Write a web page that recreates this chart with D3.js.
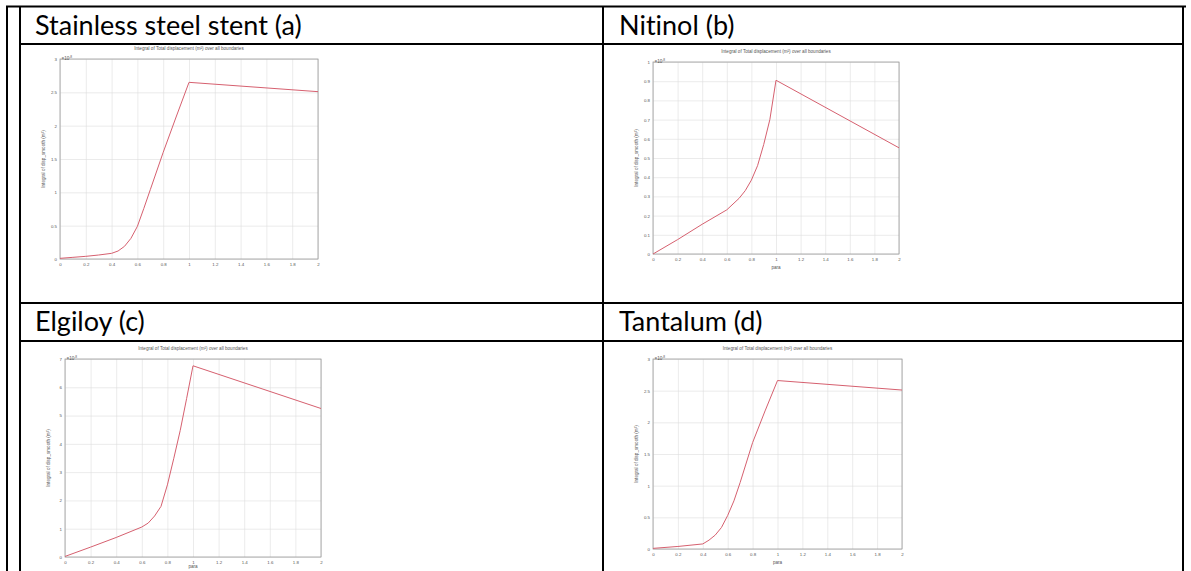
<!DOCTYPE html>
<html>
<head>
<meta charset="utf-8">
<script src="https://cdn.jsdelivr.net/npm/d3@7"></script>
<style>
    body { margin: 0; background: #fff; }
    svg { display: block; }
    .header { font-family: Lato, "Open Sans", sans-serif; font-size: 27px; fill: #000; font-variant-ligatures: none; }
    .tiny { font-family: "Liberation Sans", Arial, sans-serif; font-size: 4.6px; fill: #555; }
    .axis text { font-family: "Liberation Sans", Arial, sans-serif; font-size: 4.4px; fill: #555; }
</style>
</head>
<body>
<div id="chart"></div>
<script>
// Values (y in units of the 10^-8 multiplier)
const paraTicks = [0, 0.2, 0.4, 0.6, 0.8, 1, 1.2, 1.4, 1.6, 1.8, 2];

const steelPara = [0, 0.1, 0.2, 0.3, 0.4, 0.45, 0.5, 0.55, 0.6, 0.65, 0.7, 0.8, 0.9, 1.0, 2.0];
const steelDisp = [0.01, 0.025, 0.04, 0.06, 0.085, 0.12, 0.19, 0.31, 0.49, 0.76, 1.04, 1.6, 2.13, 2.65, 2.51];
const steelTicks = [0, 0.5, 1, 1.5, 2, 2.5, 3];

const nitinolPara = [0, 0.2, 0.4, 0.6, 0.7, 0.75, 0.8, 0.85, 0.9, 0.95, 1.0, 2.0];
const nitinolDisp = [0, 0.075, 0.155, 0.23, 0.29, 0.33, 0.385, 0.46, 0.57, 0.7, 0.905, 0.553];
const nitinolTicks = [0, 0.1, 0.2, 0.3, 0.4, 0.5, 0.6, 0.7, 0.8, 0.9, 1];

const elgiloyPara = [0, 0.2, 0.4, 0.6, 0.65, 0.7, 0.75, 0.8, 0.85, 0.9, 0.95, 1.0, 2.0];
const elgiloyDisp = [0.02, 0.35, 0.69, 1.06, 1.2, 1.45, 1.79, 2.55, 3.49, 4.47, 5.6, 6.76, 5.25];
const elgiloyTicks = [0, 1, 2, 3, 4, 5, 6, 7];

const tantalumPara = [0, 0.2, 0.4, 0.45, 0.5, 0.55, 0.6, 0.65, 0.7, 0.8, 0.9, 1.0, 2.0];
const tantalumDisp = [0.01, 0.04, 0.08, 0.14, 0.22, 0.34, 0.53, 0.76, 1.05, 1.68, 2.18, 2.66, 2.51];
const tantalumTicks = [0, 0.5, 1, 1.5, 2, 2.5, 3];

const headers = ['Stainless steel stent (a)', 'Nitinol (b)', 'Elgiloy (c)', 'Tantalum (d)'];
const plotTitle = 'Integral of Total displacement (m\u00b2) over all boundaries';
const yLabel = 'Integral of disp_smooth (m\u00b2)';

const W = 1191, H = 571;
const svg = d3.select('#chart').append('svg')
    .attr('width', W)
    .attr('height', H);

// table grid
const lines = [
    [6, 6.5, 1186, 6.5],
    [7, 6, 7, H],
    [20, 6, 20, H],
    [603, 6, 603, H],
    [1183, 6, 1183, H],
    [20, 44, 1183, 44],
    [20, 303, 1183, 303],
    [20, 341, 1183, 341]
];
svg.append('g')
    .selectAll('line')
    .data(lines)
    .join('line')
    .attr('x1', d => d[0]).attr('y1', d => d[1])
    .attr('x2', d => d[2]).attr('y2', d => d[3])
    .attr('stroke', '#000')
    .attr('stroke-width', 2);

const headerPos = [[35, 35], [619, 35], [35, 331], [619, 331]];
svg.append('g')
    .selectAll('text')
    .data(headers)
    .join('text')
    .attr('class', 'header')
    .attr('x', (d, i) => headerPos[i][0])
    .attr('y', (d, i) => headerPos[i][1])
    .text(d => d);

function createPlot(box, para, disp, yTicks, paraOffset) {
    const [left, top, right, bottom] = box;
    const x = d3.scaleLinear().domain([0, 2]).range([left, right]);
    const y = d3.scaleLinear().domain([0, d3.max(yTicks)]).range([bottom, top]);
    const g = svg.append('g');

    g.append('g')
        .attr('class', 'axis')
        .attr('transform', `translate(0,${bottom})`)
        .call(d3.axisBottom(x).tickValues(paraTicks).tickSize(-(bottom - top)).tickPadding(4).tickFormat(d3.format('')))
        .call(a => a.select('.domain').remove())
        .call(a => a.selectAll('line').attr('stroke', '#ddd').attr('stroke-width', 0.6));

    g.append('g')
        .attr('class', 'axis')
        .attr('transform', `translate(${left},0)`)
        .call(d3.axisLeft(y).tickValues(yTicks).tickSize(-(right - left)).tickPadding(3).tickFormat(d3.format('')))
        .call(a => a.select('.domain').remove())
        .call(a => a.selectAll('line').attr('stroke', '#ddd').attr('stroke-width', 0.6));

    g.append('rect')
        .attr('x', left).attr('y', top)
        .attr('width', right - left).attr('height', bottom - top)
        .attr('fill', 'none')
        .attr('stroke', '#999')
        .attr('stroke-width', 0.8);

    g.append('path')
        .datum(d3.zip(para, disp))
        .attr('fill', 'none')
        .attr('stroke', '#d6606f')
        .attr('stroke-width', 1)
        .attr('d', d3.line().x(d => x(d[0])).y(d => y(d[1])));

    const multiplier = g.append('text')
        .attr('class', 'tiny')
        .attr('x', left + 1.5)
        .attr('y', top + 0.5);
    multiplier.append('tspan').text('\u00d710');
    multiplier.append('tspan').attr('dy', -1.6).attr('font-size', '3.2px').text('-8');

    g.append('text')
        .attr('class', 'tiny')
        .attr('x', (left + right) / 2)
        .attr('y', top - 9)
        .attr('text-anchor', 'middle')
        .text(plotTitle);

    g.append('text')
        .attr('class', 'tiny')
        .attr('transform', `translate(${left - 15},${(top + bottom) / 2}) rotate(-90)`)
        .attr('text-anchor', 'middle')
        .text(yLabel);

    if (paraOffset) {
        g.append('text')
            .attr('class', 'tiny')
            .attr('x', (left + right) / 2)
            .attr('y', bottom + paraOffset)
            .attr('text-anchor', 'middle')
            .text('para');
    }
}

createPlot([60, 59, 318, 259], steelPara, steelDisp, steelTicks, 0);
createPlot([653, 62, 899, 254], nitinolPara, nitinolDisp, nitinolTicks, 15);
createPlot([65, 359, 321, 557], elgiloyPara, elgiloyDisp, elgiloyTicks, 11);
createPlot([653, 359, 902, 549], tantalumPara, tantalumDisp, tantalumTicks, 15);
</script>
</body>
</html>
